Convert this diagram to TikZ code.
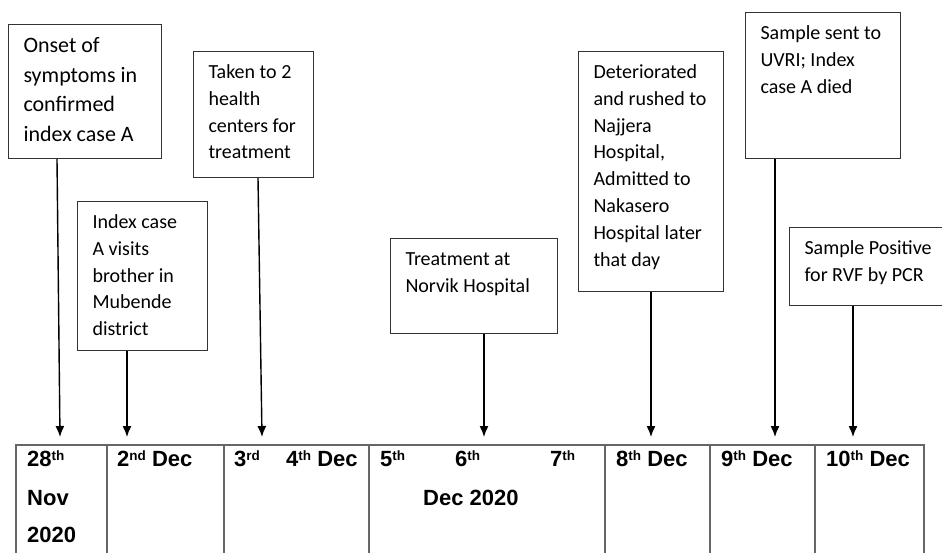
\documentclass[tikz,border=0pt]{standalone}
\usepackage{fontspec}
\setmainfont{Carlito}
\newfontfamily\tabfont{Liberation Sans}
\usetikzlibrary{calc,arrows.meta}
\newcommand\boxtext[3]{\parbox[c][#2pt][t]{#1pt}{\fontsize{20}{26.8}\selectfont\raggedright\rule{0pt}{27pt}#3\par}}
\newcommand\bigboxtext[3]{\parbox[c][#2pt][t]{#1pt}{\fontsize{22}{29.5}\selectfont\raggedright\rule{0pt}{28.5pt}#3\par}}
\newcommand\sps[1]{\raisebox{6pt}{\fontsize{13.5}{13.5}\selectfont #1}}
\tikzset{
  evbox/.style={draw=black!80, line width=1pt, anchor=north west, inner xsep=15pt, inner ysep=0pt},
  arr/.style={draw=black, line width=1.4pt, -{Latex[length=11pt,width=9pt]}},
  tline/.style={draw=black!60, line width=1.4pt},
  dlab/.style={anchor=base west, inner sep=0pt, font=\tabfont\bfseries\fontsize{22}{22}\selectfont}
}
\begin{document}
\begin{tikzpicture}[x=1pt,y=-1pt]
\clip (0,0) rectangle (942,553);
\fill[white] (0,0) rectangle (942,553);
% event boxes
\node[evbox] (b1) at (8,24)   {\bigboxtext{123}{134}{Onset of\\symptoms in\\confirmed\\index case A}};
\node[evbox] (b2) at (77,201) {\boxtext{100}{149}{Index case\\A visits\\brother in\\Mubende\\district}};
\node[evbox] (b3) at (193,51) {\boxtext{90}{126}{Taken to 2\\health\\centers for\\treatment}};
\node[evbox] (b4) at (390,238) {\boxtext{137}{95}{Treatment at\\Norvik Hospital}};
\node[evbox] (b5) at (578,51) {\boxtext{115}{240}{Deteriorated\\and rushed to\\Najjera\\Hospital,\\Admitted to\\Nakasero\\Hospital later\\that day}};
\node[evbox] (b6) at (745,12) {\boxtext{125}{146}{Sample sent to\\UVRI; Index\\case A died}};
\node[evbox] (b7) at (789,227) {\boxtext{140}{78}{Sample Positive\\for RVF by PCR}};
% arrow tips
\coordinate (t1) at (60,437);
\coordinate (t2) at (127,437);
\coordinate (t3) at (262,437);
\coordinate (t4) at (484,437);
\coordinate (t5) at (651,437);
\coordinate (t6) at (775,437);
\coordinate (t7) at (853,437);
\draw[arr] ($(b1.south west)+(49,0)$) -- (t1);
\draw[arr] ($(b2.south west)+(50,0)$) -- (t2);
\draw[arr] ($(b3.south west)+(65,0)$) -- (t3);
\draw[arr] ($(b4.south west)+(94,0)$) -- (t4);
\draw[arr] ($(b5.south west)+(73,0)$) -- (t5);
\draw[arr] ($(b6.south west)+(30,0)$) -- (t6);
\draw[arr] ($(b7.south west)+(64,0)$) -- (t7);
% table
\draw[tline] (16,445) rectangle (107,580);
\draw[tline] (107,445) rectangle (224,580);
\draw[tline] (224,445) rectangle (369,580);
\draw[tline] (369,445) rectangle (605,580);
\draw[tline] (605,445) rectangle (710,580);
\draw[tline] (710,445) rectangle (815,580);
\draw[tline] (815,445) rectangle (924,580);
% dates
\node[dlab] (d1a) at (27,466) {28\sps{th}};
\node[dlab] (d1b) at (27,505) {Nov};
\node[dlab] (d1c) at (27,542) {2020};
\node[dlab] (d2) at (117,466) {2\sps{nd} Dec};
\node[dlab] (d3) at (234,466) {3\sps{rd}};
\node[dlab] (d4) at (286,466) {4\sps{th} Dec};
\node[dlab] (d5) at (380,466) {5\sps{th}};
\node[dlab] (d6) at (455,466) {6\sps{th}};
\node[dlab] (d7) at (550,466) {7\sps{th}};
\node[dlab] (d567) at (423,505) {Dec 2020};
\node[dlab] (d8) at (616,466) {8\sps{th} Dec};
\node[dlab] (d9) at (721,466) {9\sps{th} Dec};
\node[dlab] (d10) at (826,466) {10\sps{th} Dec};
\end{tikzpicture}
\end{document}
